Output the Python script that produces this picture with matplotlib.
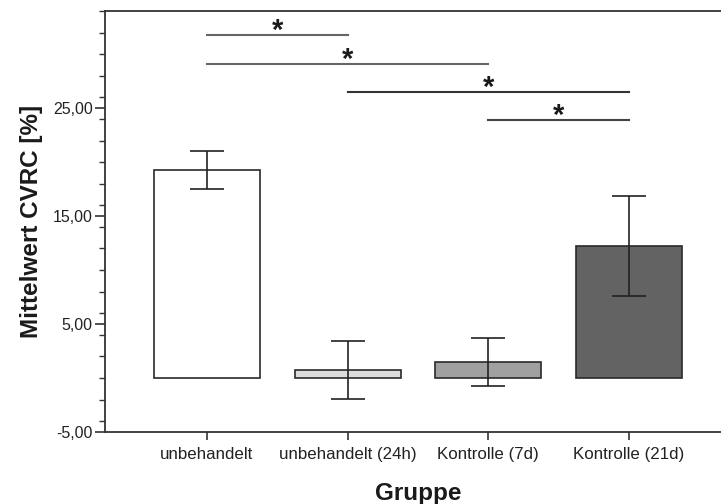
import matplotlib
matplotlib.use("Agg")
import matplotlib.pyplot as plt
from matplotlib.ticker import MultipleLocator

plt.rcParams['font.family'] = ['Liberation Sans', 'DejaVu Sans']

categories = ["unbehandelt", "unbehandelt (24h)", "Kontrolle (7d)", "Kontrolle (21d)"]
means = [19.25, 0.75, 1.48, 12.22]
errors = [1.75, 2.70, 2.25, 4.60]
bar_colors = ["#ffffff", "#dcdcdc", "#a0a0a0", "#636363"]

yticks = [-5, 5, 15, 25]
ytick_labels = ["-5,00", "5,00", "15,00", "25,00"]

# significance brackets: (from index, to index, y level)
sig_pairs = [(0, 1), (0, 2), (1, 3), (2, 3)]
sig_levels = [31.8, 29.1, 26.5, 23.9]
sig_colors = ["#666666", "#666666", "#333333", "#444444"]

W, H = 721, 504
fig = plt.figure(figsize=(W / 100, H / 100), dpi=100)
ax = fig.add_axes([105 / W, (H - 432) / H, (731 - 105) / W, (432 - 11) / H])

x = list(range(len(categories)))
ax.bar(x, means, width=0.755, color=bar_colors, edgecolor="#2a2a2a", linewidth=1.2, zorder=2)
ax.errorbar(x, means, yerr=errors, fmt="none", ecolor="#222222", elinewidth=1.2,
            capsize=12.5, capthick=1.2, zorder=3)

for (a, b), lvl, c in zip(sig_pairs, sig_levels, sig_colors):
    ax.plot([a, b], [lvl, lvl], color=c, linewidth=1.5, zorder=3)
    ax.text((a + b) / 2, lvl - 0.95, "*", ha="center", va="bottom",
            fontsize=21, fontweight="bold", color="#1a1a1a")

ax.set_xlim(-0.725, 3.725)
ax.set_ylim(-5, 34)
ax.set_xticks(x)
ax.set_xticklabels(categories, fontsize=12.2, color="#222222")
ax.set_yticks(yticks)
ax.set_yticklabels(ytick_labels, fontsize=11.5, color="#222222")
ax.yaxis.set_minor_locator(MultipleLocator(2))

ax.tick_params(axis="x", direction="out", length=6, width=1.2, color="#333333", pad=5)
ax.tick_params(axis="y", which="major", direction="out", length=7, width=1.2, color="#333333", pad=2)
ax.tick_params(axis="y", which="minor", direction="out", length=4.5, width=1.0, color="#333333")

for s in ["left", "top", "bottom"]:
    ax.spines[s].set_color("#333333")
    ax.spines[s].set_linewidth(1.3)
ax.spines["right"].set_visible(False)

ax.set_ylabel("Mittelwert CVRC [%]", fontsize=17.5, fontweight="bold", color="#1a1a1a", labelpad=7)
ax.set_xlabel("Gruppe", fontsize=17.5, fontweight="bold", color="#1a1a1a", labelpad=14)

fig.savefig("out.png", dpi=100)
